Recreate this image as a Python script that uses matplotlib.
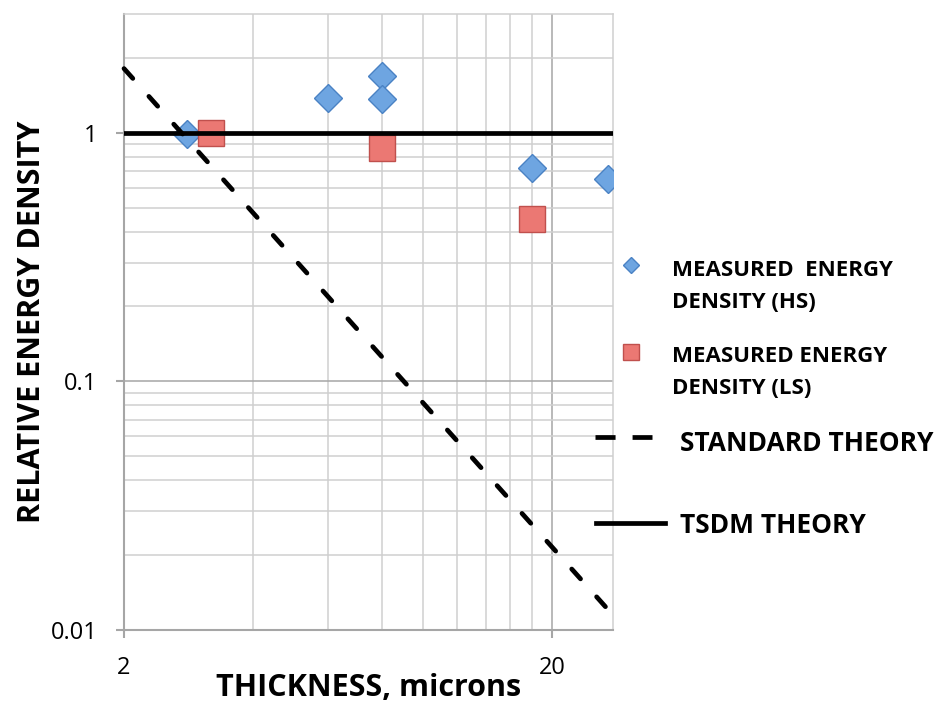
import matplotlib
matplotlib.use('Agg')
import matplotlib.pyplot as plt
from matplotlib.lines import Line2D
from matplotlib.ticker import FixedLocator, NullFormatter

plt.rcParams['font.family'] = ['Open Sans', 'DejaVu Sans']

# measured points
hs_x = [2.8, 6.0, 8.0, 8.0, 18.0, 27.0]
hs_y = [0.99, 1.38, 1.69, 1.36, 0.72, 0.65]
ls_x = [3.2, 8.0, 18.0]
ls_y = [1.0, 0.87, 0.45]

# theory lines
std_x = [2.0, 26.7]
std_y = [1.81, 0.0124]
tsdm_x = [2.0, 27.8]
tsdm_y = [1.0, 1.0]

x_ticks = [2, 20]
x_ticklabels = ['2', '20']
y_ticks = [0.01, 0.1, 1]
y_ticklabels = ['0.01', '0.1', '1']

W, H = 945, 713
fig = plt.figure(figsize=(W / 100, H / 100), dpi=100)
ax = fig.add_axes([124 / W, 1 - 630 / H, (613 - 124) / W, (630 - 14) / H])

ax.set_xscale('log')
ax.set_yscale('log')
ax.set_xlim(2, 27.8)
ax.set_ylim(0.01, 3)

# grid
ax.xaxis.set_major_locator(FixedLocator(x_ticks))
ax.set_xticklabels(x_ticklabels)
ax.xaxis.set_minor_locator(FixedLocator([4, 6, 8, 10, 12, 14, 16, 18]))
ax.xaxis.set_minor_formatter(NullFormatter())
ax.yaxis.set_major_locator(FixedLocator(y_ticks))
ax.set_yticklabels(y_ticklabels)
minor_y = [m * 0.01 for m in range(2, 10)] + [m * 0.1 for m in range(2, 10)] + [2]
ax.yaxis.set_minor_locator(FixedLocator(minor_y))
ax.yaxis.set_minor_formatter(NullFormatter())

ax.grid(which='major', color='#A6A6A6', linewidth=1.1, zorder=0)
ax.grid(which='minor', color='#CFCFCF', linewidth=1.1, zorder=0)
ax.set_axisbelow(True)

for side in ['top', 'right']:
    ax.spines[side].set_color('#CFCFCF')
    ax.spines[side].set_linewidth(1.1)
for side in ['left', 'bottom']:
    ax.spines[side].set_color('#A6A6A6')
    ax.spines[side].set_linewidth(1.5)

ax.tick_params(which='major', direction='out', length=6, width=1.5, color='#A6A6A6',
               labelsize=17, pad=13)
ax.tick_params(which='minor', length=0)

# data
ax.plot(hs_x, hs_y, linestyle='none', marker='D', markersize=14.5,
        markerfacecolor='#6EA5E1', markeredgecolor='#4A82C4', markeredgewidth=1, zorder=3)
ax.plot(ls_x, ls_y, linestyle='none', marker='s', markersize=19,
        markerfacecolor='#EB7873', markeredgecolor='#C0504D', markeredgewidth=1, zorder=3)
ax.plot(std_x, std_y, color='black', linewidth=3.4, dashes=(2.8, 5.1),
        dash_capstyle='round', zorder=4, clip_on=False)
ax.plot(tsdm_x, tsdm_y, color='black', linewidth=3.4, zorder=4)

ax.set_xlabel('THICKNESS, microns', fontsize=22, fontweight='bold')
ax.xaxis.set_label_coords(0.5, -(673 - 630) / 616)
ax.set_ylabel('RELATIVE ENERGY DENSITY', fontsize=22, fontweight='bold')
ax.yaxis.set_label_coords(-(124 - 47) / 489, 0.5)

# legend drawn by hand to follow the original layout
def fx(px):
    return px / W

def fy(py):
    return 1 - py / H

fig.add_artist(Line2D([fx(631)], [fy(265)], marker='D', markersize=8.5, linestyle='none',
                      markerfacecolor='#6EA5E1', markeredgecolor='#4A82C4',
                      transform=fig.transFigure))
fig.add_artist(Line2D([fx(631)], [fy(352)], marker='s', markersize=12, linestyle='none',
                      markerfacecolor='#EB7873', markeredgecolor='#C0504D',
                      transform=fig.transFigure))
fig.add_artist(Line2D([fx(595), fx(652)], [fy(437), fy(437)], color='black', linewidth=3.4,
                      dashes=(4.25, 3.6), transform=fig.transFigure))
fig.add_artist(Line2D([fx(596), fx(665)], [fy(523), fy(523)], color='black', linewidth=3.4,
                      transform=fig.transFigure))

small = dict(fontsize=16, fontweight='bold', va='baseline', ha='left')
big = dict(fontsize=19, fontweight='bold', va='baseline', ha='left')
fig.text(fx(672), fy(276), 'MEASURED  ENERGY', **small)
fig.text(fx(672), fy(308), 'DENSITY (HS)', **small)
fig.text(fx(672), fy(362), 'MEASURED ENERGY', **small)
fig.text(fx(672), fy(394), 'DENSITY (LS)', **small)
fig.text(fx(680), fy(451), 'STANDARD THEORY', **big)
fig.text(fx(680), fy(533), 'TSDM THEORY', **big)

plt.savefig('out.png', dpi=100)
